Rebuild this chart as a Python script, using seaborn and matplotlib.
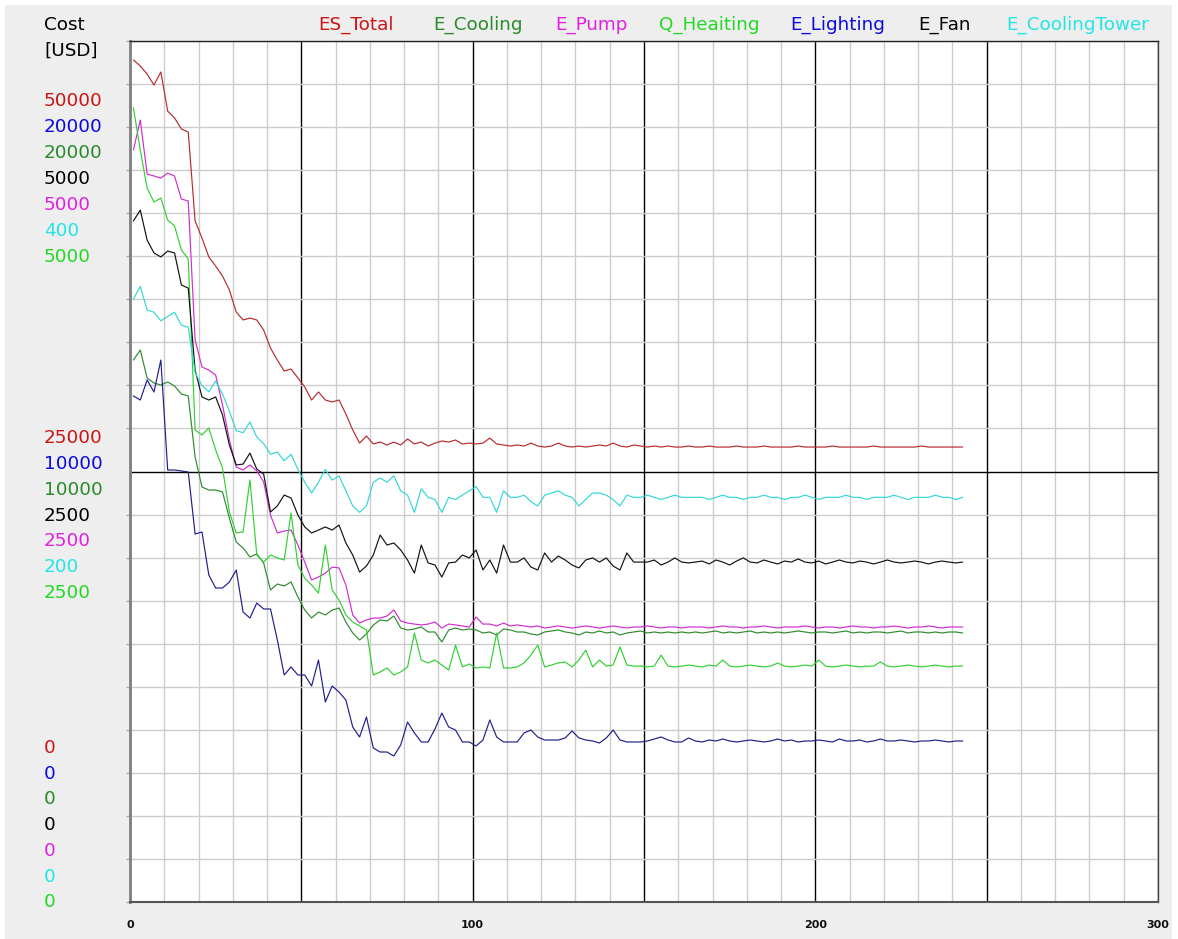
import matplotlib
matplotlib.use("Agg")
import matplotlib.pyplot as plt
from matplotlib.patches import Rectangle
import numpy as np
import pandas as pd
import seaborn as sns

# ---------------- data ----------------
iterations = list(range(1, 244, 2))  # optimisation iterations (122 samples)

series_names = ["ES_Total", "E_Cooling", "E_Pump", "Q_Heaiting", "E_Lighting", "E_Fan", "E_CoolingTower"]
# full-scale value of each series' own axis (top of the plot)
scale_max = {"ES_Total": 50000, "E_Lighting": 20000, "E_Cooling": 20000, "E_Fan": 5000,
             "E_Pump": 5000, "E_CoolingTower": 400, "Q_Heaiting": 5000}
axis_label_order = ["ES_Total", "E_Lighting", "E_Cooling", "E_Fan", "E_Pump", "E_CoolingTower", "Q_Heaiting"]

es_total = [
    48900, 48550, 48080, 47440, 48200, 45930, 45530, 44890, 44710, 39550,
    38560, 37460, 36930, 36350, 35540, 34260, 33800, 33910, 33800, 33220,
    32170, 31470, 30840, 30950, 30430, 29910, 29150, 29620, 29150, 29040,
    29150, 28340, 27410, 26650, 27060, 26600, 26710, 26540, 26710, 26540,
    26890, 26600, 26710, 26480, 26650, 26770, 26710, 26830, 26600, 26650,
    26600, 26650, 26940, 26600, 26540,
    26480, 26540, 26480, 26650, 26480, 26420, 26480, 26650, 26480, 26420,
    26480, 26420, 26480, 26540, 26480, 26650, 26480, 26420, 26540, 26480,
    26420, 26480, 26420, 26480, 26420, 26420, 26480,
    26420, 26420, 26480, 26420, 26420, 26420, 26480, 26420, 26420, 26420,
    26480, 26420, 26420, 26420, 26420, 26480, 26420, 26420, 26420, 26420,
    26480, 26420, 26420, 26420, 26420, 26420, 26480, 26420, 26420, 26420,
    26420, 26420, 26420, 26480, 26420, 26420, 26420, 26420, 26420, 26420,
]

e_cooling_tower = [
    280, 286, 275, 274, 270, 272, 274, 268, 267, 246,
    240, 237, 242, 236, 228, 219, 218, 223, 216, 213,
    208, 209, 205, 208, 201, 195, 190, 195, 201, 196,
    198, 191, 184, 181, 184, 195, 197, 195, 198, 191,
    189, 181, 192, 188, 187, 181, 188, 187, 189, 191,
    193, 188, 188, 181, 191,
    188, 188, 189, 186, 184, 189, 190, 191, 189, 188,
    184, 187, 190, 190, 189, 187, 184, 189, 188, 188,
    189, 188, 187, 188, 189, 188, 188,
    188, 188, 187, 188, 189, 188, 188, 187, 188, 188,
    189, 188, 188, 187, 188, 188, 189, 188, 187, 188,
    188, 188, 189, 188, 188, 187, 188, 188, 188, 189,
    188, 187, 188, 188, 188, 189, 188, 188, 187, 188,
]

e_fan = [
    3955, 4018, 3844, 3769, 3746, 3780, 3769, 3583, 3565, 3089,
    2933, 2915, 2933, 2828, 2654, 2538, 2543, 2607, 2514, 2485,
    2265, 2300, 2363, 2346, 2247, 2178, 2143, 2160, 2178, 2160,
    2189, 2085, 2015, 1916, 1951, 2015, 2131, 2073, 2085, 2044,
    1986, 1910, 2073, 1969, 1957, 1887, 1969, 1974, 2015, 1998,
    2044, 1928, 1986, 1910, 2073,
    1974, 1974, 1998, 1945, 1928, 2027, 1974, 2009, 1986, 1957,
    1940, 1986, 1998, 1974, 1998, 1951, 1928, 2027, 1974, 1974,
    1974, 1986, 1957, 1974, 1998, 1974, 1969,
    1974, 1980, 1963, 1986, 1974, 1957, 1980, 1998, 1974, 1969,
    1986, 1974, 1963, 1980, 1974, 1992, 1974, 1969, 1980, 1963,
    1974, 1986, 1974, 1969, 1980, 1974, 1963, 1974, 1986, 1974,
    1969, 1974, 1980, 1974, 1963, 1974, 1980, 1974, 1969, 1974,
]

e_pump = [
    4367, 4541, 4227, 4216, 4204, 4233, 4216, 4082, 4071, 3264,
    3107, 3089, 3060, 2886, 2683, 2526, 2509, 2538, 2503, 2439,
    2247, 2143, 2154, 2160, 2073, 1974, 1870, 1887, 1910, 1945,
    1940, 1841, 1667, 1620, 1638, 1649, 1649, 1661, 1696, 1632,
    1620, 1614, 1609, 1614, 1626, 1591, 1614, 1609, 1603, 1597,
    1655, 1614, 1614, 1603, 1620,
    1603, 1609, 1603, 1597, 1603, 1591, 1597, 1603, 1597, 1591,
    1597, 1603, 1597, 1591, 1597, 1603, 1597, 1591, 1597, 1597,
    1603, 1597, 1591, 1597, 1597, 1591, 1597,
    1597, 1597, 1591, 1597, 1603, 1597, 1597, 1591, 1597, 1597,
    1603, 1597, 1591, 1597, 1597, 1597, 1603, 1597, 1591, 1597,
    1597, 1591, 1597, 1603, 1597, 1597, 1591, 1597, 1597, 1603,
    1597, 1591, 1597, 1597, 1603, 1597, 1591, 1597, 1597, 1597,
]

e_cooling = [
    12590, 12822, 12172, 12056, 12009, 12079, 11986, 11800, 11754, 10337,
    9640, 9570, 9570, 9524, 8920, 8362, 8223, 8014, 8084, 7875,
    7247, 7387, 7340, 7433, 7085, 6783, 6597, 6736, 6667, 6783,
    6829, 6504, 6249, 6086, 6225, 6434, 6551, 6527, 6643, 6365,
    6318, 6342, 6388, 6272, 6272, 6040, 6318, 6365, 6318, 6342,
    6318, 6249, 6272, 6202, 6342,
    6318, 6272, 6272, 6225, 6202, 6272, 6295, 6318, 6272, 6249,
    6202, 6272, 6249, 6295, 6249, 6272, 6202, 6249, 6272, 6295,
    6249, 6272, 6249, 6272, 6249, 6272, 6249,
    6272, 6249, 6272, 6295, 6249, 6272, 6249, 6272, 6295, 6249,
    6272, 6249, 6272, 6249, 6272, 6295, 6272, 6249, 6272, 6272,
    6249, 6272, 6295, 6249, 6272, 6249, 6272, 6272, 6249, 6272,
    6295, 6249, 6272, 6272, 6249, 6272, 6249, 6272, 6272, 6249,
]

q_heating = [
    4611, 4367, 4146, 4065, 4088, 3960, 3926, 3786, 3734, 2741,
    2712, 2753, 2625, 2520, 2265, 2143, 2149, 2451, 2015, 1974,
    2015, 1998, 1986, 2259, 1957, 1881, 1841, 1794, 2073, 1812,
    1754, 1667, 1626, 1603, 1580, 1318, 1336, 1359, 1318, 1336,
    1365, 1562, 1405, 1388, 1405, 1376, 1347, 1492, 1365, 1382,
    1359, 1365, 1359, 1562, 1359,
    1359, 1365, 1388, 1434, 1492, 1365, 1376, 1388, 1394, 1365,
    1405, 1463, 1365, 1405, 1370, 1376, 1481, 1376, 1370, 1370,
    1365, 1370, 1434, 1370, 1365, 1370, 1376,
    1370, 1365, 1376, 1370, 1405, 1370, 1365, 1370, 1376, 1370,
    1365, 1370, 1388, 1370, 1365, 1370, 1376, 1370, 1405, 1370,
    1365, 1370, 1376, 1370, 1365, 1370, 1370, 1394, 1370, 1365,
    1370, 1376, 1370, 1365, 1370, 1376, 1370, 1365, 1370, 1370,
]

e_lighting = [
    11754, 11661, 12126, 11847, 12590, 10035, 10035, 10012, 9988, 8548,
    8595, 7596, 7294, 7294, 7433, 7712, 6736, 6597, 6945, 6806,
    6806, 6086, 5273, 5459, 5273, 5273, 5017, 5621, 4646, 5017,
    4878, 4692, 4065, 3833, 4297, 3577, 3484, 3484, 3391, 3647,
    4181, 3926, 3717, 3717, 4019, 4390, 4065, 3995, 3717, 3717,
    3624, 3763, 4228, 3833, 3717,
    3717, 3717, 3926, 3995, 3833, 3763, 3763, 3763, 3810, 3972,
    3810, 3763, 3740, 3693, 3810, 3995, 3763, 3717, 3717, 3717,
    3740, 3786, 3833, 3763, 3717, 3717, 3810,
    3740, 3717, 3763, 3740, 3786, 3740, 3717, 3740, 3763, 3740,
    3717, 3740, 3786, 3740, 3763, 3717, 3740, 3740, 3763, 3740,
    3717, 3786, 3740, 3740, 3763, 3717, 3740, 3786, 3740, 3740,
    3763, 3740, 3717, 3740, 3740, 3763, 3740, 3717, 3740, 3740,
]

values = {
    "ES_Total": es_total, "E_Cooling": e_cooling, "E_Pump": e_pump, "Q_Heaiting": q_heating,
    "E_Lighting": e_lighting, "E_Fan": e_fan, "E_CoolingTower": e_cooling_tower,
}
x_tick_values = [0, 100, 200, 300]

# ---------------- style ----------------
line_colors = {"ES_Total": "#B82A2C", "E_Cooling": "#2F8A2F", "E_Pump": "#D22AD2",
               "Q_Heaiting": "#30D030", "E_Lighting": "#1E1E8C", "E_Fan": "#111111",
               "E_CoolingTower": "#34D6D6"}
text_colors = {"ES_Total": "#CC1414", "E_Cooling": "#2A8A2A", "E_Pump": "#E020E0",
               "Q_Heaiting": "#22D822", "E_Lighting": "#0A0AE0", "E_Fan": "#000000",
               "E_CoolingTower": "#22E6E6"}

sns.set_theme(style="white")
plt.rcParams["font.family"] = ["DejaVu Sans"]

frames = []
for name in series_names:
    v = np.asarray(values[name], dtype=float)
    assert len(v) == len(iterations), (name, len(v))
    frames.append(pd.DataFrame({"iteration": iterations, "value": v,
                                "norm": v / scale_max[name], "series": name}))
df = pd.concat(frames, ignore_index=True)

W, H = 1178, 939
fig = plt.figure(figsize=(W / 100, H / 100), dpi=100)
fig.patch.set_facecolor("white")
fig.patches.append(Rectangle((5 / W, 0), (1172 - 5) / W, (H - 5) / H, transform=fig.transFigure,
                             facecolor="#EEEEEE", edgecolor="none", zorder=-10))

ax = fig.add_axes([130 / W, (H - 902) / H, 1028 / W, 861 / H])
ax.set_facecolor("white")

sns.lineplot(data=df, x="iteration", y="norm", hue="series", hue_order=series_names,
             palette=line_colors, estimator=None, sort=False, legend=False,
             linewidth=0.85, ax=ax)

ax.set_xlim(0, 300)
ax.set_ylim(0, 1)
ax.set_xticks(np.arange(0, 301, 50))
ax.set_xticks(np.arange(0, 301, 10), minor=True)
ax.set_xticklabels([str(t) if t in x_tick_values else "" for t in range(0, 301, 50)],
                   fontsize=8, fontweight="bold", color="#111111")
ax.set_yticks([0.5])
ax.set_yticks(np.arange(0, 1.0001, 0.05), minor=True)
ax.set_yticklabels([])
ax.set_axisbelow(True)
ax.grid(which="minor", color="#CCCCCC", linewidth=1.0)
ax.grid(which="major", color="#000000", linewidth=1.0)
ax.tick_params(axis="x", which="both", length=0, pad=13)
ax.tick_params(axis="y", which="minor", left=True, length=3, color="#AAAAAA", width=1)
ax.tick_params(axis="y", which="major", left=False, length=0)
ax.set_xlabel("")
ax.set_ylabel("")
ax.spines["left"].set_color("#808080")
ax.spines["left"].set_linewidth(2.0)
ax.spines["bottom"].set_color("#555555")
ax.spines["bottom"].set_linewidth(1.5)
ax.spines["top"].set_color("#222222")
ax.spines["top"].set_linewidth(1.0)
ax.spines["right"].set_color("#444444")
ax.spines["right"].set_linewidth(1.0)

fs = 13.2
def ftext(xp, yp, s, color, ha="left"):
    fig.text(xp / W, 1 - yp / H, s, color=color, fontsize=fs, ha=ha, va="center")

# header: unit title and series legend
ftext(44, 25, "Cost", "#000000")
ftext(44, 51, "[USD]", "#000000")
legend_x = {"ES_Total": 356, "E_Cooling": 478, "E_Pump": 591, "Q_Heaiting": 709,
            "E_Lighting": 838, "E_Fan": 945, "E_CoolingTower": 1078}
for name in series_names:
    ftext(legend_x[name], 25, name, text_colors[name], ha="center")

# stacked per-series axis labels (full scale, half scale, zero)
top_y = [101, 127, 153, 179, 205, 231, 257]
mid_y = [438, 464, 490, 516, 541, 567, 593]
zero_y = [748, 774, 799, 825, 851, 877, 902]
for i, name in enumerate(axis_label_order):
    c = text_colors[name]
    ftext(44, top_y[i], f"{scale_max[name]}", c)
    ftext(44, mid_y[i], f"{scale_max[name] // 2}", c)
    ftext(44, zero_y[i], "0", c)

fig.savefig("out.png", dpi=100, facecolor=fig.get_facecolor())
